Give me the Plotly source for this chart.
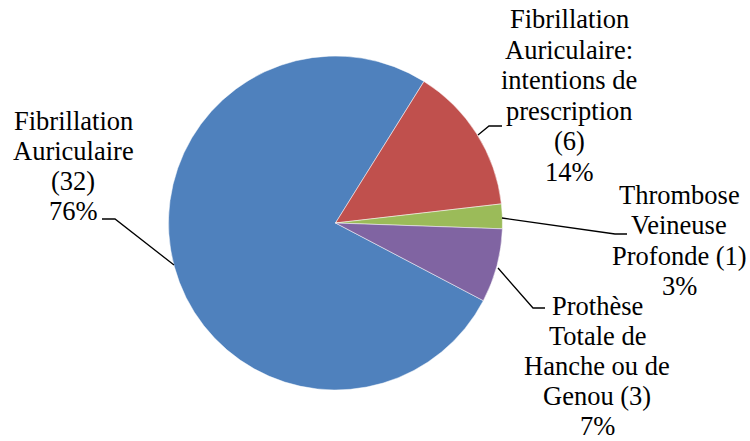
import plotly.graph_objects as go

# data
categories = [
    "Fibrillation Auriculaire",
    "Fibrillation Auriculaire: intentions de prescription",
    "Thrombose Veineuse Profonde",
    "Prothèse Totale de Hanche ou de Genou",
]
counts = [32, 6, 1, 3]
percent_labels = ["76%", "14%", "3%", "7%"]
label_lines = [
    ["Fibrillation", "Auriculaire", "(32)", "76%"],
    ["Fibrillation", "Auriculaire:", "intentions de", "prescription", "(6)", "14%"],
    ["Thrombose", "Veineuse", "Profonde (1)", "3%"],
    ["Prothèse", "Totale de", "Hanche ou de", "Genou (3)", "7%"],
]
colors = ["#4F81BD", "#C0504D", "#9BBB59", "#8064A2"]

W, H = 750, 441
FS = 26.5
FONT = "Liberation Serif, Times New Roman, serif"

# pie placement (pixels)
cx, cy, r = 335.5, 223, 167
# red slice starts at ~32 deg, blue comes first in the list
rotation = 32 + 360 - 360 * counts[0] / sum(counts)

fig = go.Figure()
fig.add_trace(go.Pie(
    labels=categories,
    values=counts,
    sort=False,
    direction="clockwise",
    rotation=rotation,
    marker=dict(colors=colors, line=dict(color="rgba(255,255,255,0.7)", width=0.7)),
    textinfo="none",
    hoverinfo="label+value+percent",
    showlegend=False,
    domain=dict(x=[(cx - r) / W, (cx + r) / W], y=[1 - (cy + r) / H, 1 - (cy - r) / H]),
))

# label layout: centre x, first baseline, line step (pixels)
label_pos = [(73, 129.5, 30.3), (569, 28, 30.6), (679, 204, 30.3), (597, 315, 30.0)]
for lines, (lx, base, step) in zip(label_lines, label_pos):
    for i, txt in enumerate(lines):
        b = base + i * step
        fig.add_annotation(
            x=lx / W, y=1 - (b - 0.3375 * FS) / H, xref="paper", yref="paper",
            text=txt, showarrow=False, xanchor="center", yanchor="middle",
            font=dict(family=FONT, size=FS, color="black"),
        )

# leader lines (pixels)
leaders = [
    [(102, 219), (115, 219), (174, 265)],
    [(502, 126), (489, 126), (478, 135)],
    [(627, 234), (615, 234), (502, 218)],
    [(545, 308), (533, 308), (498, 268)],
]
for pts in leaders:
    path = "M " + " L ".join(f"{x / W:.5f},{1 - y / H:.5f}" for x, y in pts)
    fig.add_shape(type="path", path=path, xref="paper", yref="paper",
                  line=dict(color="black", width=1.3))

fig.update_layout(
    width=W, height=H,
    margin=dict(l=0, r=0, t=0, b=0),
    paper_bgcolor="white",
    plot_bgcolor="white",
)

# drop the default 8px body margin so the figure fills the window
fig.write_html("out.html", config={"displayModeBar": False},
               post_script="document.body.style.margin='0';")
